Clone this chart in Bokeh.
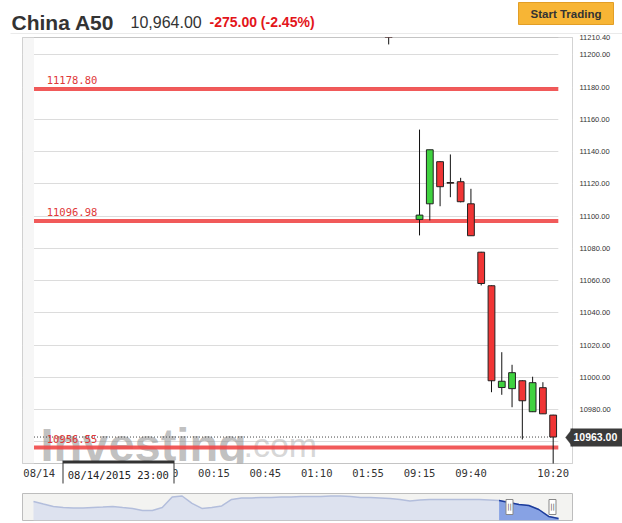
from bokeh.plotting import figure
from bokeh.models import (ColumnDataSource, Label, BoxAnnotation, PolyAnnotation, FixedTicker,
                          PrintfTickFormatter, Range1d, LinearAxis)
from bokeh.layouts import column
from bokeh.embed import file_html
from bokeh.resources import INLINE
from bokeh.core.properties import value

# ---------------- data ----------------
instrument = "China A50"
last_quote = "10,964.00"
change_text = "-275.00 (-2.45%)"
button_text = "Start Trading"

slots = [-3, 0, 1, 2, 3, 4, 5, 6, 7, 8, 9, 10, 11, 12, 13]
times = ["02:05", "09:15", "09:20", "09:25", "09:30", "09:35", "09:40", "09:45",
         "09:50", "09:55", "10:00", "10:05", "10:10", "10:15", "10:20"]
opens = [11231.0, 11097.9, 11107.6, 11133.7, 11120.8, 11121.3, 11107.6, 11077.6,
         11056.8, 10993.7, 10993.0, 10997.9, 10978.7, 10993.6, 10976.6]
highs = [11236.0, 11153.6, 11141.1, 11134.0, 11138.2, 11123.7, 11116.9, 11077.8,
         11057.0, 11015.6, 11007.8, 10998.2, 11000.4, 10997.0, 10976.8]
lows = [11206.4, 11088.0, 11097.3, 11106.1, 11111.7, 11108.5, 11087.8, 11057.0,
        10990.8, 10989.2, 10981.5, 10961.5, 10978.5, 10977.4, 10945.0]
closes = [11228.0, 11100.6, 11141.1, 11118.2, 11120.4, 11108.9, 11087.8, 11058.2,
          10997.9, 10997.6, 11002.9, 10985.5, 10996.7, 10977.4, 10963.0]

level_values = [11178.80, 11096.98, 10956.55]
last_price = 10963.00
crosshair_price = 11210.40
crosshair_time = "08/14/2015 23:00"
crosshair_slot = -29.3

y_ticks = [10960, 10980, 11000, 11020, 11040, 11060, 11080, 11100, 11120, 11140,
           11160, 11180, 11200]
tick_slots = [-37, -25, -20, -15, -10, -5, 0, 5, 13]
tick_labels = ["08/14", "23:50", "00:15", "00:45", "01:10", "01:55", "09:15", "09:40", "10:20"]

# navigator (whole session overview)
nav_values = [11173, 11142, 11112, 11099, 11093, 11093, 11099, 11105, 11112, 11099,
              11087, 11062, 11062, 11099, 11229, 11241, 11149, 11087, 11099, 11118,
              11198, 11217, 11217, 11223, 11223, 11229, 11229, 11235, 11235, 11235,
              11241, 11241, 11235, 11223, 11223, 11217, 11210, 11198, 11180, 11192,
              11198, 11198, 11198, 11198, 11198, 11198, 11192, 11186, 11161, 11136,
              11124, 11074, 10988, 10963]
nav_selected_from = 47
nav_handles = [48.05, 52.39]

# ---------------- styling constants ----------------
GREEN = "#3fd23f"
RED = "#f03535"
LEVEL_RED = "#f04848"
TAG_DARK = "#3a3a3a"
X_RANGE = (-38.62, 14.88)
Y_RANGE = (10946.6, 11210.7)
PLOT_L, PLOT_R = -37.5, 13.5
FONT = "Liberation Sans"
MONO = "DejaVu Sans Mono"

# estimated pixel widths used to place the last-price tag over the y axis
Y_LABEL_AREA = 41      # standoff + widest y tick label
PRICE_TEXT_W = 46      # width of the bold last-price text


def no_align(fig):
    if "frame_align" in fig.properties():
        fig.frame_align = False


def bare_axis(ax):
    ax.axis_line_color = None
    ax.major_tick_line_color = None
    ax.minor_tick_line_color = None
    ax.major_tick_in = 0
    ax.major_tick_out = 0
    ax.minor_tick_in = 0
    ax.minor_tick_out = 0


# ---------------- header strip ----------------
p0 = figure(width=622, height=34, x_range=Range1d(0, 622), y_range=Range1d(34, 0),
            output_backend="svg", toolbar_location=None, x_axis_location=None,
            y_axis_location=None, min_border=0, min_border_left=0, min_border_right=0,
            min_border_top=0, min_border_bottom=0, background_fill_color="white",
            border_fill_color="white")
no_align(p0)
p0.grid.visible = False
p0.outline_line_color = None
p0.add_layout(Label(x=11, y=21.5, text=instrument, text_font=FONT, text_font_style="bold",
                    text_font_size="21px", text_color="#333333", text_baseline="alphabetic"))
p0.add_layout(Label(x=130, y=21.5, text=last_quote, text_font=FONT, text_font_size="16px",
                    text_color="#333333", text_baseline="alphabetic"))
p0.add_layout(Label(x=209, y=21.5, text=change_text, text_font=FONT, text_font_style="bold",
                    text_font_size="14px", text_color="#e3151a", text_baseline="alphabetic"))
p0.quad(left=[518], right=[613], top=[2], bottom=[24], fill_color="#f7b535",
        line_color="#e29e26", line_width=1)
p0.add_layout(Label(x=565.5, y=13.5, text=button_text, text_font=FONT,
                    text_font_style="bold", text_font_size="11.5px", text_color="#333333",
                    text_baseline="middle", text_align="center"))
p0.segment(x0=[10], x1=[622], y0=[33.5], y1=[33.5], line_color="#d4d4d4", line_width=1)

# ---------------- main chart ----------------
p = figure(width=622, height=453, x_range=Range1d(*X_RANGE), y_range=Range1d(*Y_RANGE),
           output_backend="svg", toolbar_location=None, y_axis_location="right",
           min_border_left=22, min_border_right=50, min_border_top=3, min_border_bottom=24,
           background_fill_color="white", border_fill_color="white")
no_align(p)
p.outline_line_color = "#c4c4c4"
p.xgrid.visible = False
p.ygrid.ticker = FixedTicker(ticks=y_ticks)
p.ygrid.grid_line_color = "#dcdcdc"

# y axis: regular labels + crosshair price label
ya = p.yaxis[0]
ya.ticker = FixedTicker(ticks=y_ticks[1:] + [crosshair_price])
ya.formatter = PrintfTickFormatter(format="%.2f")
bare_axis(ya)
ya.major_label_standoff = 7
ya.major_label_text_font = FONT
ya.major_label_text_font_size = "7.5px"
ya.major_label_text_color = "#333333"

# last price text (drawn last), pulled back over the tag body
ax_price = LinearAxis(ticker=FixedTicker(ticks=[last_price]),
                      formatter=PrintfTickFormatter(format="%.2f"), level="overlay")
bare_axis(ax_price)
ax_price.major_label_standoff = 1 - Y_LABEL_AREA
ax_price.major_label_text_font = FONT
ax_price.major_label_text_font_style = "bold"
ax_price.major_label_text_font_size = "10.5px"
ax_price.major_label_text_color = "white"
p.add_layout(ax_price, "right")

# tag body: a thick minor tick reaching back to the frame
ax_tag = LinearAxis(ticker=FixedTicker(ticks=[], minor_ticks=[last_price]))
bare_axis(ax_tag)
ax_tag.major_label_standoff = 0
ax_tag.minor_tick_line_color = TAG_DARK
ax_tag.minor_tick_line_width = 18
ax_tag.minor_tick_in = 4 + PRICE_TEXT_W
ax_tag.minor_tick_out = 2
p.add_layout(ax_tag, "right")

xa = p.xaxis[0]
xa.ticker = FixedTicker(ticks=tick_slots)
xa.major_label_overrides = {s: l for s, l in zip(tick_slots, tick_labels)}
bare_axis(xa)
xa.major_label_standoff = 3
xa.major_label_text_font = MONO
xa.major_label_text_font_size = "10.5px"
xa.major_label_text_color = "#333333"

# crosshair time tooltip: border (dark minor tick), body (white minor tick) and text
ax_tip_border = LinearAxis(ticker=FixedTicker(ticks=[], minor_ticks=[crosshair_slot]))
bare_axis(ax_tip_border)
ax_tip_border.major_label_standoff = 0
ax_tip_border.minor_tick_line_color = "#333333"
ax_tip_border.minor_tick_line_width = 112
ax_tip_border.minor_tick_in = 21
ax_tip_border.minor_tick_out = 2
p.add_layout(ax_tip_border, "below")

ax_tip = LinearAxis(ticker=FixedTicker(ticks=[crosshair_slot], minor_ticks=[crosshair_slot]))
ax_tip.major_label_overrides = {crosshair_slot: crosshair_time}
bare_axis(ax_tip)
ax_tip.minor_tick_line_color = "white"
ax_tip.minor_tick_line_width = 110
ax_tip.minor_tick_in = 20
ax_tip.minor_tick_out = 1
ax_tip.major_label_standoff = -16
ax_tip.major_label_text_font = MONO
ax_tip.major_label_text_font_size = "10.5px"
ax_tip.major_label_text_color = "#222222"
p.add_layout(ax_tip, "below")

# side strips of the chart area
p.add_layout(BoxAnnotation(right=PLOT_L, fill_color="#f6f6f6", fill_alpha=1,
                           line_alpha=0, level="underlay"))
p.add_layout(BoxAnnotation(left=PLOT_R, fill_color="white", fill_alpha=1,
                           line_alpha=0, level="underlay"))

# watermark
FR_LEFT, FR_BOTTOM = 22, 463   # page coords of the frame's left / bottom edges
p.add_layout(Label(x=40 - FR_LEFT, y=FR_BOTTOM - 444, x_units="screen", y_units="screen",
                   text="Investing", text_font=FONT, text_font_style="bold",
                   text_font_size="47px", text_color="#8c8c8c", text_alpha=0.55,
                   text_baseline="alphabetic", level="underlay"))
p.add_layout(Label(x=243 - FR_LEFT, y=FR_BOTTOM - 444, x_units="screen", y_units="screen",
                   text=".com", text_font=FONT, text_font_size="34px",
                   text_color="#b4b4b4", text_alpha=0.55, text_baseline="alphabetic",
                   level="underlay"))

# level lines
lv = ColumnDataSource(dict(x0=[PLOT_L] * len(level_values), x1=[PLOT_R] * len(level_values),
                           y=level_values))
p.segment(x0="x0", x1="x1", y0="y", y1="y", source=lv, line_color=LEVEL_RED,
          line_width=4, line_alpha=0.9)
for v in level_values:
    p.add_layout(Label(x=PLOT_L, y=v, x_offset=12.7, y_offset=8.5, text=f"{v:.2f}",
                       text_font=MONO, text_font_size="10.5px",
                       text_color="#e03838", text_baseline="alphabetic"))

# last price dotted line
p.segment(x0=[PLOT_L], x1=[slots[-1]], y0=[last_price], y1=[last_price],
          line_color="#444444", line_width=1, line_dash="1 2")

# candles
src = ColumnDataSource(dict(
    x=slots, high=highs, low=lows,
    top=[max(o, c) for o, c in zip(opens, closes)],
    bottom=[min(o, c) for o, c in zip(opens, closes)],
    color=[GREEN if c > o else RED for o, c in zip(opens, closes)],
    time=times))
p.segment(x0="x", x1="x", y0="low", y1="high", source=src, line_color="#111111", line_width=1)
p.vbar(x="x", width=0.66, top="top", bottom="bottom", source=src,
       fill_color="color", line_color="#222222", line_width=1)

# arrow tip of the last-price tag (inside the frame)
p.add_layout(PolyAnnotation(xs=[565 - FR_LEFT, 572 - FR_LEFT, 572 - FR_LEFT],
                            ys=[FR_BOTTOM - 437, FR_BOTTOM - 428, FR_BOTTOM - 446],
                            xs_units="screen", ys_units="screen", fill_color=TAG_DARK,
                            fill_alpha=1, line_color=TAG_DARK, line_width=1))

# ---------------- navigator ----------------
nav_x = list(range(len(nav_values)))
n = len(nav_values)
p2 = figure(width=622, height=36, x_range=Range1d(-1.11, n - 1 + 1.41),
            y_range=Range1d(10938, 11272), output_backend="svg", toolbar_location=None,
            x_axis_location=None, y_axis_location=None,
            min_border_left=22, min_border_right=50, min_border_top=6, min_border_bottom=3,
            background_fill_color="#f3f3f1", border_fill_color="white")
no_align(p2)
p2.grid.visible = False
p2.outline_line_color = "#bdbdbd"
p2.varea(x=nav_x, y1=[10938] * n, y2=nav_values, fill_color="#dde2ef")
p2.line(x=nav_x, y=nav_values, line_color="#b3bedc", line_width=1.5)
sel_x = nav_x[nav_selected_from:]
sel_y = nav_values[nav_selected_from:]
p2.varea(x=sel_x, y1=[10938] * len(sel_x), y2=sel_y, fill_color="#87a2e4")
p2.line(x=sel_x, y=sel_y, line_color="#1c3c9c", line_width=1.5)
p2.rect(x=nav_handles, y=[11105, 11105], width=7, height=15, width_units="screen",
        height_units="screen", fill_color="white", line_color="#888888")
p2.text(x=nav_handles, y=[11105, 11105], text=["||", "||"], text_font=value("DejaVu Sans"),
        text_font_size="7px", text_align="center", text_baseline="middle",
        text_color="#444444")

layout = column(p0, p, p2, spacing=0)
open("out.html", "w").write(file_html(layout, INLINE))
